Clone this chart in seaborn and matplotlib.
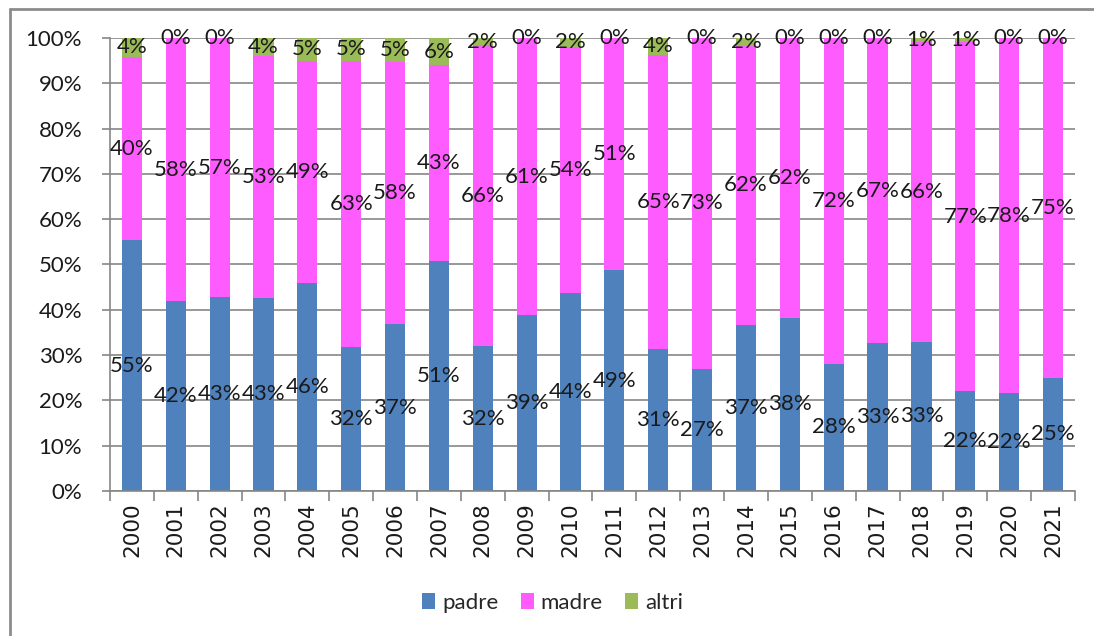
import numpy as np
import pandas as pd
import matplotlib
matplotlib.use('Agg')
import matplotlib.pyplot as plt
from matplotlib.patches import Patch
from matplotlib.lines import Line2D
import seaborn as sns

# Data (percent of total)
years = ['2000', '2001', '2002', '2003', '2004', '2005', '2006', '2007', '2008', '2009', '2010',
         '2011', '2012', '2013', '2014', '2015', '2016', '2017', '2018', '2019', '2020', '2021']
padre = [55.4, 41.9, 42.8, 42.6, 45.9, 31.7, 36.8, 50.7, 32.0, 38.8, 43.6,
         48.7, 31.4, 27.0, 36.6, 38.2, 28.1, 32.6, 32.9, 22.1, 21.6, 25.0]
madre = [40.4, 58.1, 57.2, 53.4, 49.1, 63.3, 58.0, 43.3, 66.4, 61.2, 54.4,
         51.3, 64.9, 73.0, 61.7, 61.8, 71.9, 67.4, 66.2, 76.9, 78.4, 75.0]
altri = [4.2, 0.0, 0.0, 4.0, 5.0, 5.0, 5.2, 6.0, 1.6, 0.0, 2.0,
         0.0, 3.7, 0.0, 1.7, 0.0, 0.0, 0.0, 0.9, 1.0, 0.0, 0.0]
series = ['padre', 'madre', 'altri']
colors = {'padre': '#4F81BD', 'madre': '#FF5CFF', 'altri': '#9BBB59'}

df = pd.DataFrame({'Anno': years, 'padre': padre, 'madre': madre, 'altri': altri})
df['base_madre'] = df['padre']
df['base_altri'] = df['padre'] + df['madre']

sns.set_style('white')
plt.rcParams['font.family'] = ['Lato', 'DejaVu Sans']

fig = plt.figure(figsize=(10.94, 6.36), dpi=100)
ax = fig.add_axes([0.1005, 0.228, 0.8821, 0.7123])

sns.barplot(data=df, x='Anno', y='padre', color=colors['padre'], width=0.46,
            saturation=1, ax=ax, linewidth=0)
sns.barplot(data=df, x='Anno', y='madre', bottom=df['base_madre'], color=colors['madre'],
            width=0.46, saturation=1, ax=ax, linewidth=0)
sns.barplot(data=df, x='Anno', y='altri', bottom=df['base_altri'], color=colors['altri'],
            width=0.46, saturation=1, ax=ax, linewidth=0)

# data labels centred in each segment
lab_kw = dict(ha='center', va='center', fontsize=16, color='#1a1a1a')
for i in range(len(years)):
    ax.text(i, df['padre'][i] / 2, f"{df['padre'][i]:.0f}%", **lab_kw)
    ax.text(i, df['base_madre'][i] + df['madre'][i] / 2, f"{df['madre'][i]:.0f}%", **lab_kw)
    ax.text(i, df['base_altri'][i] + df['altri'][i] / 2, f"{df['altri'][i]:.0f}%", **lab_kw)

ax.set_ylim(0, 100)
ax.set_xlim(-0.5, len(years) - 0.5)
ax.set_yticks(np.arange(0, 101, 10))
ax.set_yticklabels([f'{v}%' for v in range(0, 101, 10)], fontsize=16, color='#1a1a1a')
ax.yaxis.grid(True, color='#868686', linewidth=1.2)
ax.set_axisbelow(True)
ax.tick_params(axis='y', length=6, width=1.2, color='#868686', pad=14, direction='out', left=True)

ax.set_xticks(range(len(years)))
ax.set_xticklabels(years, rotation=90, fontsize=15.5, family='DejaVu Sans', color='#1a1a1a')
ax.set_xticks(np.arange(-0.5, len(years), 1), minor=True)
ax.tick_params(axis='x', which='major', length=0, pad=8)
ax.tick_params(axis='x', which='minor', length=7, width=1.2, color='#868686', bottom=True)
ax.set_xlabel('')
ax.set_ylabel('')

for s in ['top', 'right']:
    ax.spines[s].set_visible(False)
for s in ['left', 'bottom']:
    ax.spines[s].set_color('#868686')
    ax.spines[s].set_linewidth(1.2)

handles = [Patch(facecolor=colors[s], edgecolor='none') for s in series]
fig.legend(handles, series, loc='center', bbox_to_anchor=(0.505, 0.052), ncol=3,
           frameon=False, fontsize=16, handlelength=0.6, handleheight=0.7,
           handletextpad=0.3, columnspacing=1.0)

# outer chart frame (left and top edge visible)
fig.add_artist(Line2D([10 / 1094, 10 / 1094], [0, 1 - 9 / 636], color='#8c8c8c', linewidth=2))
fig.add_artist(Line2D([10 / 1094, 1], [1 - 9 / 636, 1 - 9 / 636], color='#8c8c8c', linewidth=2))

fig.savefig('out.png', dpi=100)
